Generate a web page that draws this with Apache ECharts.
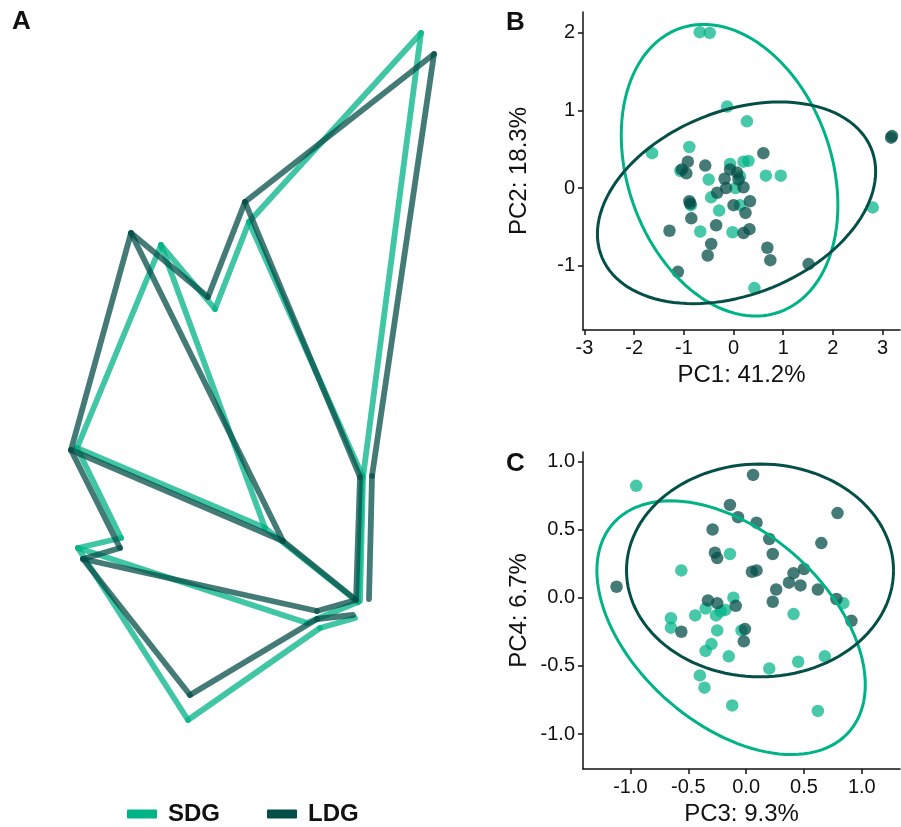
<!DOCTYPE html>
<html>
<head>
<meta charset="utf-8">
<script src="https://cdn.jsdelivr.net/npm/echarts@6/dist/echarts.min.js"></script>
<style>
  html, body { margin: 0; padding: 0; background: #fff; }
  #chart { width: 901px; height: 827px; }
</style>
</head>
<body>
<div id="chart"></div>
<script>
// 颜色
const colSDG = "#00B386";
const colLDG = "#054F49";

// A: 翅脉 landmark 坐标 (x, y 向下)
const landmarksSDG = {
  T: [421, 33], A: [249, 222], B: [215, 309], C: [161, 245], D: [77, 448],
  E: [121, 538], F: [78, 548], G: [188, 720], I: [265, 528], J: [362, 475],
  K: [358, 602], X: [363, 477], Y: [360, 601], P: [307, 623], R: [320, 628],
  S: [355, 618],
};
const landmarksLDG = {
  T: [434, 54], A: [245, 202], B: [208, 297], C: [131, 233], D: [71, 450],
  E: [120, 548], F: [83, 559], G: [190, 695], I: [283, 541], J: [360, 477],
  K: [356, 600], X: [372, 476], Y: [369, 599], P: [317, 611], R: [317, 619],
  S: [353, 615],
};
// 连线
const wingEdges = [
  ["T", "A"], ["A", "B"], ["B", "C"], ["C", "D"], ["C", "I"], ["A", "J"],
  ["T", "X"], ["X", "Y"], ["J", "K"], ["D", "I"], ["D", "E"], ["E", "F"],
  ["F", "G"], ["F", "P"], ["P", "K"], ["G", "R"], ["R", "S"], ["I", "K"],
];

// B: PC1 / PC2
const pc12SDG = [
  [-0.68, 2.01], [-0.48, 2.0], [-0.13, 1.05], [0.27, 0.86], [-1.64, 0.45],
  [-0.89, 0.53], [-1.07, 0.22], [-0.5, 0.11], [-0.07, 0.31], [0.2, 0.34],
  [0.3, 0.35], [0.65, 0.16], [0.95, 0.16], [0.13, 0.15], [0.04, 0.0],
  [-0.45, -0.12], [-0.86, -0.22], [-0.29, -0.29], [0.13, -0.22], [-0.67, -0.56],
  [-0.02, -0.57], [0.42, -1.29], [2.8, -0.25],
];
const pc12LDG = [
  [3.19, 0.67], [3.17, 0.65], [0.6, 0.45], [-0.92, 0.34], [-0.57, 0.29],
  [-1.04, 0.24], [-0.95, 0.19], [-0.07, 0.24], [0.07, 0.2], [-0.18, 0.12],
  [0.1, 0.11], [-0.15, 0.0], [0.2, 0.01], [-0.33, -0.06], [-0.89, -0.17],
  [-0.87, -0.2], [0.33, -0.17], [0.0, -0.22], [0.24, -0.32], [-0.85, -0.39],
  [-0.35, -0.48], [-1.29, -0.55], [0.32, -0.53], [0.2, -0.58], [-0.45, -0.72],
  [-0.52, -0.87], [0.68, -0.77], [0.74, -0.93], [1.51, -0.98], [-1.12, -1.08],
];
// C: PC3 / PC4
const pc34SDG = [
  [-0.95, 0.82], [-0.14, 0.32], [-0.56, 0.2], [-0.11, 0.0], [0.84, -0.04],
  [-0.35, -0.08], [-0.18, -0.09], [-0.22, -0.1], [-0.44, -0.13], [-0.26, -0.13],
  [0.41, -0.12], [-0.65, -0.15], [-0.65, -0.22], [-0.25, -0.24], [-0.04, -0.24],
  [-0.3, -0.34], [-0.35, -0.39], [-0.15, -0.43], [0.68, -0.43], [0.45, -0.47],
  [0.2, -0.52], [-0.4, -0.57], [-0.36, -0.66], [-0.12, -0.79], [0.62, -0.83],
];
const pc34LDG = [
  [0.06, 0.9], [-0.14, 0.68], [-0.07, 0.59], [0.09, 0.55], [0.79, 0.62],
  [-0.29, 0.5], [0.2, 0.43], [0.65, 0.4], [-0.27, 0.33], [0.23, 0.32],
  [-0.25, 0.29], [0.05, 0.19], [0.09, 0.2], [0.5, 0.21], [0.41, 0.18],
  [0.37, 0.11], [0.47, 0.09], [-1.12, 0.08], [0.26, 0.06], [0.62, 0.06],
  [-0.33, -0.02], [0.78, -0.01], [-0.25, -0.04], [-0.09, -0.06], [0.23, -0.03],
  [0.91, -0.17], [-0.56, -0.25], [-0.01, -0.23], [-0.02, -0.32],
];

// 置信椭圆 [中心x, 中心y, 半宽, 半高, 相关系数]
const ellipse12SDG = [-0.08, 0.23, 2.18, 1.88, -0.24];
const ellipse12LDG = [0.06, -0.19, 2.8, 1.3, 0.31];
const ellipse34SDG = [-0.13, -0.22, 1.16, 0.93, -0.45];
const ellipse34LDG = [0.12, 0.2, 1.154, 0.78, 0.0];

// 刻度
const ticksPC1 = [-3, -2, -1, 0, 1, 2, 3];
const ticksPC2 = [-1, 0, 1, 2];
const ticksPC3 = [-1, -0.5, 0, 0.5, 1];
const ticksPC4 = [-1, -0.5, 0, 0.5, 1];

const font = "Liberation Sans, Arial, sans-serif";

function edgeCoords(lm) {
  return wingEdges.map(([a, b]) => ({ coords: [lm[a], lm[b]] }));
}

function ellipsePath(e) {
  const [cx, cy, w, h, rho] = e;
  const phi = Math.acos(rho);
  const pts = [];
  for (let i = 0; i <= 120; i++) {
    const t = (i / 120) * Math.PI * 2;
    pts.push([cx + w * Math.cos(t), cy + h * Math.cos(t - phi)]);
  }
  return pts;
}

function pcAxis(gridIndex, min, max, ticks, name, gap, fmt) {
  return {
    type: "value",
    gridIndex,
    min,
    max,
    name,
    nameLocation: "middle",
    nameGap: gap,
    nameTextStyle: { fontSize: 24, color: "#111", fontFamily: font },
    splitLine: { show: false },
    axisLine: { show: true, onZero: false, lineStyle: { color: "#111", width: 1.5 } },
    axisTick: { show: true, length: 5, customValues: ticks, lineStyle: { color: "#111", width: 1.5 } },
    axisLabel: {
      customValues: ticks,
      fontSize: 20,
      color: "#111",
      fontFamily: font,
      margin: 8,
      formatter: fmt,
    },
  };
}

const intFmt = (v) => String(Math.round(v));
const decFmt = (v) => v.toFixed(1);

const lineBase = { width: 5.8, opacity: 0.75, cap: "round", join: "round" };

const options = {
  animation: false,
  grid: [
    { left: 0, top: 0, width: 450, height: 780 },
    { left: 583, top: 12, width: 317, height: 318 },
    { left: 583, top: 452, width: 317, height: 318 },
  ],
  xAxis: [
    { type: "value", gridIndex: 0, min: 0, max: 450, show: false },
    pcAxis(1, -3.03, 3.35, ticksPC1, "PC1: 41.2%", 33, intFmt),
    pcAxis(2, -1.41, 1.33, ticksPC3, "PC3: 9.3%", 33, decFmt),
  ],
  yAxis: [
    { type: "value", gridIndex: 0, min: 0, max: 780, inverse: true, show: false },
    pcAxis(1, -1.83, 2.27, ticksPC2, "PC2: 18.3%", 52, intFmt),
    pcAxis(2, -1.256, 1.068, ticksPC4, "PC4: 6.7%", 52, decFmt),
  ],
  legend: {
    left: 122,
    top: 797,
    itemWidth: 28,
    itemHeight: 7,
    itemGap: 47,
    icon: "rect",
    textStyle: { fontSize: 24, fontWeight: "bold", color: "#111", fontFamily: font, padding: [0, 0, 0, 7] },
    data: [
      { name: "SDG", itemStyle: { color: colSDG, opacity: 1 } },
      { name: "LDG", itemStyle: { color: colLDG, opacity: 1 } },
    ],
  },
  graphic: [
    { type: "text", left: 12, top: 9, style: { text: "A", fontSize: 26, fontWeight: "bold", fill: "#111", fontFamily: font } },
    { type: "text", left: 506, top: 10, style: { text: "B", fontSize: 26, fontWeight: "bold", fill: "#111", fontFamily: font } },
    { type: "text", left: 506, top: 451, style: { text: "C", fontSize: 26, fontWeight: "bold", fill: "#111", fontFamily: font } },
  ],
  series: [
    // A
    {
      name: "SDG", type: "lines", coordinateSystem: "cartesian2d", xAxisIndex: 0, yAxisIndex: 0,
      data: edgeCoords(landmarksSDG), lineStyle: { ...lineBase, color: colSDG }, silent: true,
    },
    {
      name: "LDG", type: "lines", coordinateSystem: "cartesian2d", xAxisIndex: 0, yAxisIndex: 0,
      data: edgeCoords(landmarksLDG), lineStyle: { ...lineBase, color: colLDG }, silent: true,
    },
    // B
    {
      name: "SDG", type: "scatter", xAxisIndex: 1, yAxisIndex: 1, data: pc12SDG,
      symbolSize: 12.5, itemStyle: { color: colSDG, opacity: 0.72 },
    },
    {
      name: "LDG", type: "scatter", xAxisIndex: 1, yAxisIndex: 1, data: pc12LDG,
      symbolSize: 12.5, itemStyle: { color: colLDG, opacity: 0.75 },
    },
    {
      name: "SDG", type: "line", xAxisIndex: 1, yAxisIndex: 1, data: ellipsePath(ellipse12SDG),
      showSymbol: false, lineStyle: { color: colSDG, width: 3 }, silent: true,
    },
    {
      name: "LDG", type: "line", xAxisIndex: 1, yAxisIndex: 1, data: ellipsePath(ellipse12LDG),
      showSymbol: false, lineStyle: { color: colLDG, width: 3 }, silent: true,
    },
    // C
    {
      name: "SDG", type: "scatter", xAxisIndex: 2, yAxisIndex: 2, data: pc34SDG,
      symbolSize: 12.5, itemStyle: { color: colSDG, opacity: 0.72 },
    },
    {
      name: "LDG", type: "scatter", xAxisIndex: 2, yAxisIndex: 2, data: pc34LDG,
      symbolSize: 12.5, itemStyle: { color: colLDG, opacity: 0.75 },
    },
    {
      name: "SDG", type: "line", xAxisIndex: 2, yAxisIndex: 2, data: ellipsePath(ellipse34SDG),
      showSymbol: false, lineStyle: { color: colSDG, width: 3 }, silent: true,
    },
    {
      name: "LDG", type: "line", xAxisIndex: 2, yAxisIndex: 2, data: ellipsePath(ellipse34LDG),
      showSymbol: false, lineStyle: { color: colLDG, width: 3 }, silent: true,
    },
  ],
};

const chart = echarts.init(document.getElementById("chart"));
chart.setOption(options);
window.addEventListener("resize", () => chart.resize());
</script>
</body>
</html>
